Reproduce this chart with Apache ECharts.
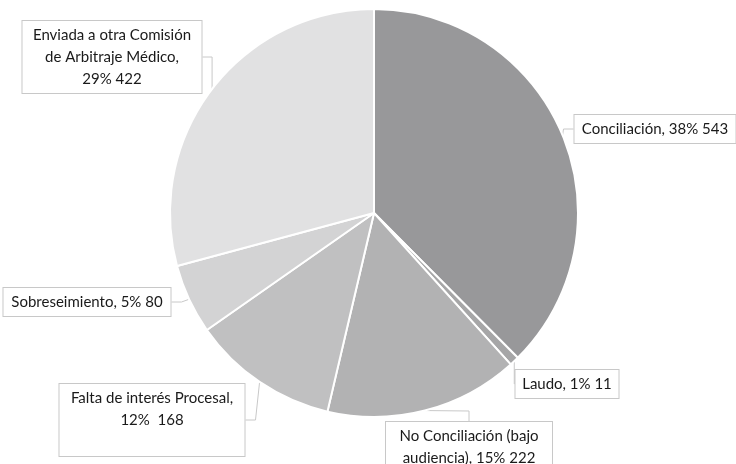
<!DOCTYPE html>
<html><head><meta charset="utf-8">
<script src="https://cdn.jsdelivr.net/npm/echarts@6/dist/echarts.min.js"></script>
<style>html,body{margin:0;padding:0;background:#fff}#c{width:736px;height:464px}</style>
</head><body><div id="c"></div>
<script>
const categories = ['Conciliación', 'Laudo', 'No Conciliación (bajo audiencia)', 'Falta de interés Procesal', 'Sobreseimiento', 'Enviada a otra Comisión de Arbitraje Médico'];
const values = [543, 11, 222, 168, 80, 422];
const percentLabels = ['38%', '1%', '15%', '12%', '5%', '29%'];
const labelTexts = [
  'Conciliación, 38% 543',
  'Laudo, 1% 11',
  'No Conciliación (bajo\naudiencia), 15% 222',
  'Falta de interés Procesal,\n12%  168\n ',
  'Sobreseimiento, 5% 80',
  'Enviada a otra Comisión\nde Arbitraje Médico,\n29% 422'
];
const colors = ['#98989a', '#a6a6a7', '#b2b2b3', '#c0c0c1', '#d3d3d4', '#e1e1e2'];

// label box placements (center x, center y, text width) — layout only
const boxes = [
  [655, 129, 151],
  [567, 384, 93],
  [469, 447, 156],
  [152, 420, 175],
  [87, 302, 157],
  [112, 57, 169]
];

const chart = echarts.init(document.getElementById('c'), null, {renderer: 'canvas'});
chart.setOption({
  animation: false,
  series: [{
    type: 'pie',
    center: [374, 213],
    radius: 204,
    startAngle: 90,
    clockwise: true,
    avoidLabelOverlap: false,
    data: categories.map((c, i) => ({
      name: c, value: values[i], itemStyle: {color: colors[i]},
      label: {width: boxes[i][2]}
    })),
    itemStyle: {borderColor: '#ffffff', borderWidth: 2},
    label: {
      show: true,
      position: 'outside',
      formatter: p => labelTexts[p.dataIndex],
      fontFamily: 'Lato',
      fontSize: 15,
      lineHeight: 22,
      color: '#1a1a1a',
      align: 'center',
      backgroundColor: '#ffffff',
      borderColor: '#c8c8c8',
      borderWidth: 1,
      padding: [3, 5, 3, 5]
    },
    labelLine: {show: true, length: 10, length2: 10, lineStyle: {color: '#c8c8c8', width: 1}},
    labelLayout: function (params) {
      const b = boxes[params.dataIndex];
      return {x: b[0], y: b[1], align: 'center', verticalAlign: 'middle'};
    },
    emphasis: {disabled: true}
  }]
});
</script></body></html>
